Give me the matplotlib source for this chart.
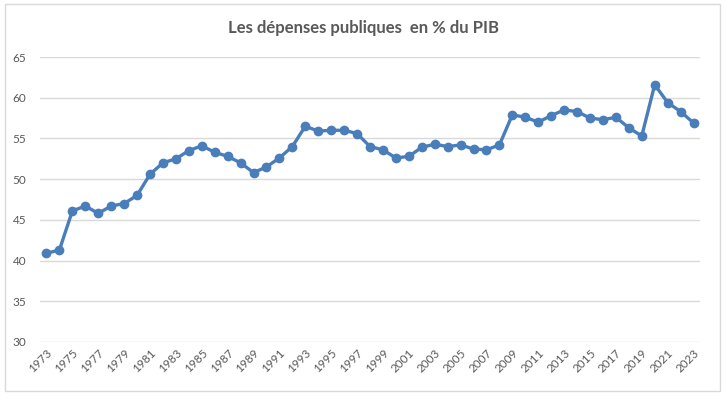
import numpy as np
import matplotlib.pyplot as plt
from matplotlib.patches import Rectangle

years = list(range(1973, 2024))
depenses = [40.9, 41.3, 46.1, 46.7, 45.8, 46.7, 47.0, 48.0, 50.6, 52.0,
            52.5, 53.5, 54.1, 53.3, 52.8, 52.0, 50.8, 51.5, 52.6, 54.0,
            56.5, 55.9, 56.0, 56.0, 55.6, 54.0, 53.6, 52.6, 52.8, 53.9,
            54.3, 54.0, 54.2, 53.7, 53.6, 54.2, 57.9, 57.6, 57.0, 57.8,
            58.5, 58.3, 57.5, 57.3, 57.6, 56.3, 55.3, 61.6, 59.4, 58.3,
            56.9]
y_ticks = [30, 35, 40, 45, 50, 55, 60, 65]

plt.rcParams['font.family'] = ['Lato', 'DejaVu Sans']
grey = '#595959'
line_col = '#4a7ebb'

fig = plt.figure(figsize=(7.26, 3.99), dpi=100)
W, H = 726, 399

# light frame around the whole chart, like the excel chart area
fig.patches.append(Rectangle((5 / W, 8 / H), 715 / W, 387 / H, transform=fig.transFigure,
                             fill=False, edgecolor='#d9d9d9', linewidth=1.0))

ax = fig.add_axes([40 / W, 1 - 342 / H, 660 / W, 285 / H])
x = np.arange(len(years))
ax.plot(x, depenses, color=line_col, linewidth=2.4, marker='o', markersize=6,
        markerfacecolor=line_col, markeredgecolor=line_col, zorder=3)

ax.set_xlim(-0.5, len(years) - 0.5)
ax.set_ylim(30, 65)
ax.set_yticks(y_ticks)
ax.set_yticklabels([str(v) for v in y_ticks], fontsize=8.5, color=grey)
ax.grid(axis='y', color='#d9d9d9', linewidth=1.0)
ax.set_axisbelow(True)

ax.set_xticks(x[::2])
ax.set_xticklabels([str(y) for y in years[::2]], rotation=45, ha='right',
                   rotation_mode='anchor', fontsize=8.5, color=grey)
ax.tick_params(axis='both', length=0)
ax.tick_params(axis='y', pad=10)
ax.tick_params(axis='x', pad=4)
for s in ax.spines.values():
    s.set_visible(False)

fig.text(0.5, 1 - 28 / H, "Les dépenses publiques  en % du PIB", ha='center', va='center',
         fontsize=12, fontweight='bold', color=grey)

plt.savefig('out.png', dpi=100)
